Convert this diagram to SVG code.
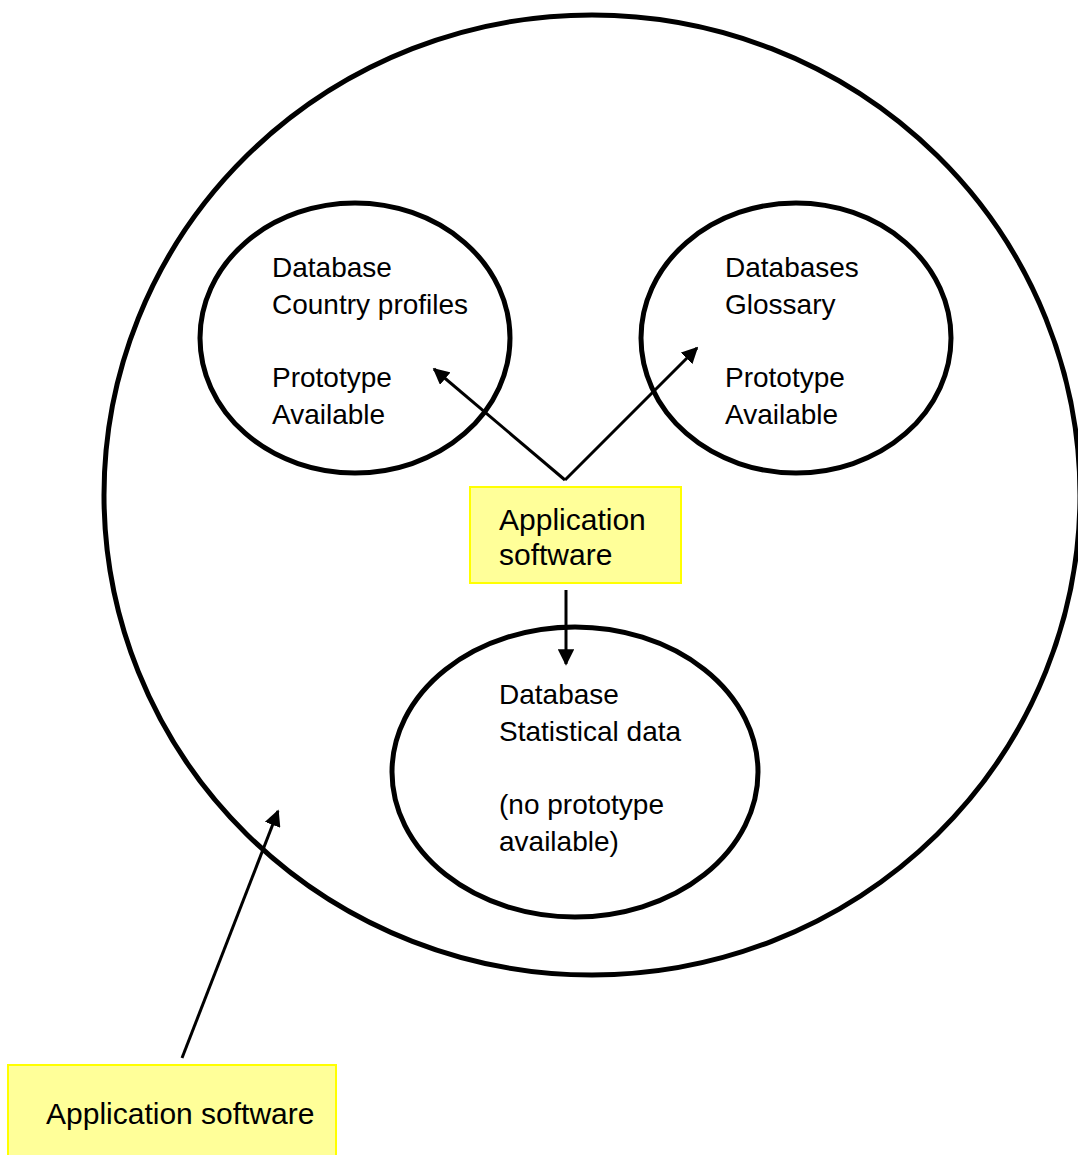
<svg xmlns="http://www.w3.org/2000/svg" width="1078" height="1155" viewBox="0 0 1078 1155">
  <style>
    .ring { fill: none; stroke: #000; stroke-width: 5; }
    .label { font-family: "Liberation Sans", Arial, sans-serif; font-size: 28px; fill: #000; }
    .boxlabel { font-family: "Liberation Sans", Arial, sans-serif; font-size: 30px; fill: #000; }
    .box { fill: #ffff99; stroke: #ffff00; stroke-width: 2; }
    .link { stroke: #000; stroke-width: 3; fill: none; marker-end: url(#head); }
  </style>
  <defs>
    <marker id="head" viewBox="0 0 10 10" refX="9" refY="5" markerWidth="5.5" markerHeight="5.5" orient="auto" markerUnits="strokeWidth">
      <path d="M0,0 L10,5 L0,10 z" fill="#000"/>
    </marker>
  </defs>
  <rect width="1078" height="1155" fill="#fff"/>

  <g id="system">
    <ellipse class="ring" cx="592" cy="495" rx="488" ry="480"/>
  </g>

  <g id="db-country">
    <ellipse class="ring" cx="355" cy="338" rx="155" ry="135"/>
    <text class="label" x="272" y="277">Database</text>
    <text class="label" x="272" y="314">Country profiles</text>
    <text class="label" x="272" y="387">Prototype</text>
    <text class="label" x="272" y="424">Available</text>
  </g>

  <g id="db-glossary">
    <ellipse class="ring" cx="796" cy="338" rx="155" ry="135"/>
    <text class="label" x="725" y="277">Databases</text>
    <text class="label" x="725" y="314">Glossary</text>
    <text class="label" x="725" y="387">Prototype</text>
    <text class="label" x="725" y="424">Available</text>
  </g>

  <g id="db-statistics">
    <ellipse class="ring" cx="575" cy="772" rx="183" ry="145"/>
    <text class="label" x="499" y="704">Database</text>
    <text class="label" x="499" y="741">Statistical data</text>
    <text class="label" x="499" y="814">(no prototype</text>
    <text class="label" x="499" y="851">available)</text>
  </g>

  <g id="app-inner">
    <rect class="box" x="470" y="487" width="211" height="96"/>
    <text class="boxlabel" x="499" y="530">Application</text>
    <text class="boxlabel" x="499" y="565">software</text>
  </g>

  <g id="app-outer">
    <rect class="box" x="8" y="1065" width="328" height="95"/>
    <text class="boxlabel" x="46" y="1124">Application software</text>
  </g>

  <g id="connectors">
    <path class="link" d="M565,480 L434,369"/>
    <path class="link" d="M565,480 L697,348"/>
    <path class="link" d="M566,590 L566,664"/>
    <path class="link" d="M182,1058 L278,811"/>
  </g>
</svg>
